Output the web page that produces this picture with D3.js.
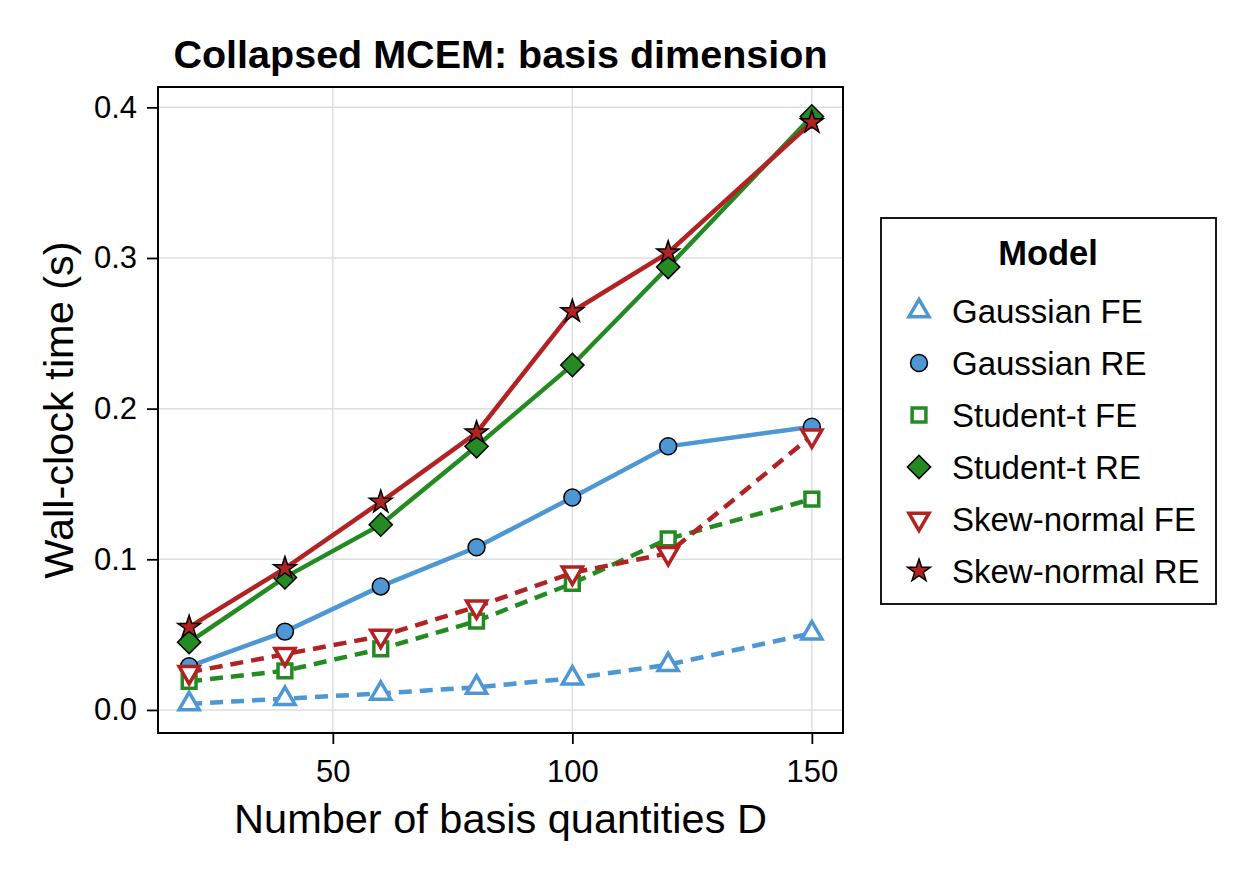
<!DOCTYPE html>
<html>
<head>
<meta charset="utf-8">
<title>Collapsed MCEM: basis dimension</title>
<script src="https://cdnjs.cloudflare.com/ajax/libs/d3/7.8.5/d3.min.js"></script>
<style>
  body { margin: 0; background: #fff; }
  text { font-family: "Liberation Sans", Arial, sans-serif; fill: #000; }
</style>
</head>
<body>
<script>
  // data
  var basisD = [20, 40, 60, 80, 100, 120, 150];
  var gaussianFE = [0.004, 0.0075, 0.011, 0.015, 0.021, 0.030, 0.051];
  var gaussianRE = [0.029, 0.052, 0.082, 0.108, 0.141, 0.175, 0.188];
  var studentFE = [0.019, 0.026, 0.0405, 0.059, 0.084, 0.1135, 0.140];
  var studentRE = [0.045, 0.088, 0.123, 0.175, 0.229, 0.294, 0.394];
  var skewFE = [0.025, 0.037, 0.049, 0.0685, 0.091, 0.104, 0.182];
  var skewRE = [0.055, 0.094, 0.138, 0.184, 0.2645, 0.3035, 0.390];
  var xTicks = [50, 100, 150];
  var yTicks = [0, 0.1, 0.2, 0.3, 0.4];

  var BLUE = "#4d97d4", GREEN = "#238b22", RED = "#b22222";

  var series = [
    {name: "Gaussian FE", values: gaussianFE, color: BLUE, dashed: true, marker: "triUp"},
    {name: "Gaussian RE", values: gaussianRE, color: BLUE, dashed: false, marker: "circle"},
    {name: "Student-t FE", values: studentFE, color: GREEN, dashed: true, marker: "square"},
    {name: "Student-t RE", values: studentRE, color: GREEN, dashed: false, marker: "diamond"},
    {name: "Skew-normal FE", values: skewFE, color: RED, dashed: true, marker: "triDown"},
    {name: "Skew-normal RE", values: skewRE, color: RED, dashed: false, marker: "star"}
  ];

  var W = 1250, H = 875;
  var plot = {left: 158, right: 843, top: 87, bottom: 733};

  var svg = d3.select("body").append("svg")
      .attr("width", W)
      .attr("height", H);

  var x = d3.scaleLinear().domain([13.5, 156.5]).range([plot.left, plot.right]);
  var y = d3.scaleLinear().domain([-0.0153, 0.4135]).range([plot.bottom, plot.top]);

  // grid
  svg.append("g").selectAll("line.gx")
      .data(xTicks).enter().append("line")
      .attr("x1", function(d) { return x(d); })
      .attr("x2", function(d) { return x(d); })
      .attr("y1", plot.top).attr("y2", plot.bottom)
      .style("stroke", "#dedede").style("stroke-width", 1.5);
  svg.append("g").selectAll("line.gy")
      .data(yTicks).enter().append("line")
      .attr("y1", function(d) { return y(d); })
      .attr("y2", function(d) { return y(d); })
      .attr("x1", plot.left).attr("x2", plot.right)
      .style("stroke", "#dedede").style("stroke-width", 1.5);

  // axes
  var xAxis = d3.axisBottom(x).tickValues(xTicks).tickSize(11).tickPadding(16)
      .tickFormat(d3.format("d"));
  var yAxis = d3.axisLeft(y).tickValues(yTicks).tickSize(11).tickPadding(10)
      .tickFormat(d3.format(".1f"));

  var gx = svg.append("g").attr("transform", "translate(0," + plot.bottom + ")").call(xAxis);
  var gy = svg.append("g").attr("transform", "translate(" + plot.left + ",0)").call(yAxis);
  [gx, gy].forEach(function(g) {
    g.select(".domain").remove();
    g.selectAll(".tick line").style("stroke", "#000").style("stroke-width", 1.8);
    g.selectAll(".tick text").style("font-size", "31px")
      .style("font-family", "'Liberation Sans', Arial, sans-serif").style("fill", "#000");
  });
  gx.selectAll(".tick text").attr("dy", "0.71em");

  // markers
  function markerPath(type) {
    switch (type) {
      case "circle": return d3.symbol().type(d3.symbolCircle).size(225)();
      case "square": return d3.symbol().type(d3.symbolSquare).size(190)();
      case "diamond": return d3.symbol().type(d3.symbolSquare).size(270)();
      case "triUp": return d3.symbol().type(d3.symbolTriangle).size(175)();
      case "triDown": return d3.symbol().type(d3.symbolTriangle).size(175)();
      case "star": return d3.symbol().type(d3.symbolStar).size(160)();
    }
  }
  function markerRotate(type) {
    if (type === "diamond") return " rotate(45)";
    if (type === "triDown") return " rotate(180)";
    return "";
  }
  function isOpen(type) {
    return type === "square" || type === "triUp" || type === "triDown";
  }
  function styleMarker(sel, s) {
    if (isOpen(s.marker)) {
      sel.style("fill", "#fff").style("stroke", s.color).style("stroke-width", 3.5);
    } else {
      sel.style("fill", s.color).style("stroke", "#000").style("stroke-width", 1.5);
    }
  }

  var line = d3.line()
      .x(function(d, i) { return x(basisD[i]); })
      .y(function(d) { return y(d); });

  var marks = svg.append("g");
  series.forEach(function(s) {
    marks.append("path")
      .datum(s.values)
      .attr("d", line)
      .style("fill", "none")
      .style("stroke", s.color)
      .style("stroke-width", 4.5)
      .style("stroke-dasharray", s.dashed ? "13,8" : null);
    marks.selectAll(null)
      .data(s.values).enter().append("path")
      .attr("d", markerPath(s.marker))
      .attr("transform", function(d, i) {
        return "translate(" + x(basisD[i]) + "," + y(d) + ")" + markerRotate(s.marker);
      })
      .call(styleMarker, s);
  });

  // frame
  svg.append("rect")
      .attr("x", plot.left).attr("y", plot.top)
      .attr("width", plot.right - plot.left)
      .attr("height", plot.bottom - plot.top)
      .style("fill", "none").style("stroke", "#000").style("stroke-width", 2);

  // title and labels
  svg.append("text")
      .attr("x", (plot.left + plot.right) / 2).attr("y", 68)
      .attr("text-anchor", "middle")
      .style("font-size", "39.5px").style("font-weight", "bold")
      .text("Collapsed MCEM: basis dimension");
  svg.append("text")
      .attr("x", (plot.left + plot.right) / 2).attr("y", 833)
      .attr("text-anchor", "middle")
      .style("font-size", "41.5px")
      .text("Number of basis quantities D");
  svg.append("text")
      .attr("transform", "translate(73," + ((plot.top + plot.bottom) / 2) + ") rotate(-90)")
      .attr("text-anchor", "middle")
      .style("font-size", "41.5px")
      .text("Wall-clock time (s)");

  // legend
  var lg = svg.append("g");
  lg.append("rect")
      .attr("x", 881).attr("y", 218).attr("width", 335).attr("height", 386)
      .style("fill", "#fff").style("stroke", "#000").style("stroke-width", 1.8);
  lg.append("text")
      .attr("x", 1048).attr("y", 265)
      .attr("text-anchor", "middle")
      .style("font-size", "34.5px").style("font-weight", "bold")
      .text("Model");
  var rows = lg.selectAll("g.row")
      .data(series).enter().append("g")
      .attr("transform", function(d, i) { return "translate(0," + (311 + i * 52) + ")"; });
  rows.append("path")
      .attr("d", function(d) { return markerPath(d.marker); })
      .attr("transform", function(d) { return "translate(919,0)" + markerRotate(d.marker); })
      .each(function(d) { styleMarker(d3.select(this), d); });
  rows.append("text")
      .attr("x", 952).attr("y", 12)
      .style("font-size", "33px")
      .text(function(d) { return d.name; });
</script>
</body>
</html>
